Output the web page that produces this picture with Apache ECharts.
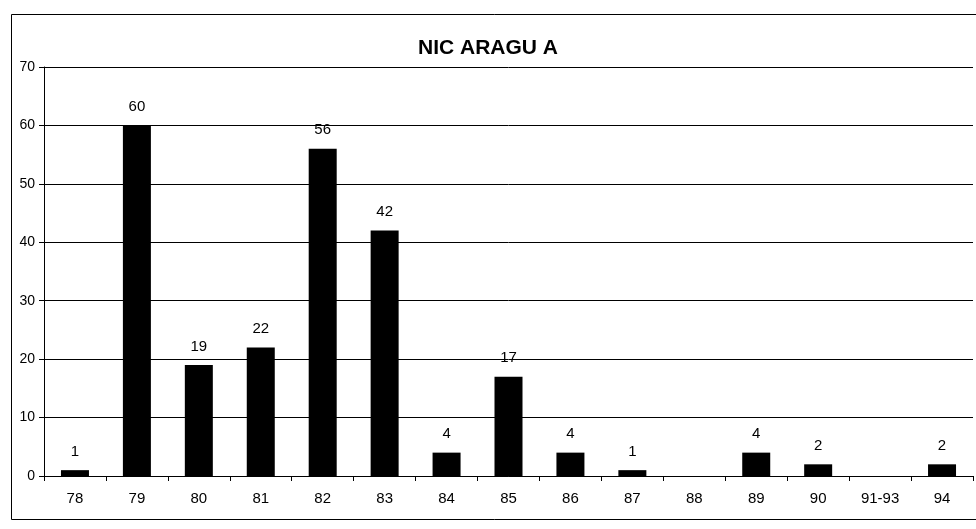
<!DOCTYPE html>
<html>
<head>
<meta charset="utf-8">
<script src="https://cdn.jsdelivr.net/npm/echarts@6/dist/echarts.min.js"></script>
<style>
html,body{margin:0;padding:0;background:#fff;}
#main{width:976px;height:529px;}
</style>
</head>
<body>
<div id="main"></div>
<script>
var titleText = 'NIC ARAGU A';
var categories = ['78','79','80','81','82','83','84','85','86','87','88','89','90','91-93','94'];
var values = [1,60,19,22,56,42,4,17,4,1,null,4,2,null,2];
var yTicks = [0,10,20,30,40,50,60,70];

var chart = echarts.init(document.getElementById('main'), null, {renderer:'canvas'});
var font = 'Liberation Sans, Arial, sans-serif';
chart.setOption({
  animation:false,
  backgroundColor:'#fff',
  title:{
    text:titleText, left:'center', top:33,
    textStyle:{fontFamily:font, fontSize:21, fontWeight:'bold', color:'#000'}
  },
  graphic:[{
    type:'rect', left:9, top:12, shape:{width:966, height:505},
    style:{fill:'none', stroke:'#000', lineWidth:1}, silent:true
  }],
  grid:{left:44, right:3, top:67, bottom:53, containLabel:false},
  xAxis:{
    type:'category', data:categories,
    axisLine:{lineStyle:{color:'#000', width:1}},
    axisTick:{show:true, length:5, inside:false, alignWithLabel:false, lineStyle:{color:'#000'}},
    axisLabel:{color:'#000', fontFamily:font, fontSize:15, margin:15}
  },
  yAxis:{
    type:'value', min:yTicks[0], max:yTicks[yTicks.length-1], interval:10,
    axisLine:{show:true, lineStyle:{color:'#000', width:1}},
    axisTick:{show:true, length:5, lineStyle:{color:'#000'}},
    axisLabel:{color:'#000', fontFamily:font, fontSize:14, margin:9},
    splitLine:{show:true, lineStyle:{color:'#000', width:1}}
  },
  series:[{
    type:'bar', data:values, barWidth:28,
    itemStyle:{color:'#000'},
    label:{show:true, position:'top', distance:11, color:'#000', fontFamily:font, fontSize:15}
  }]
});
</script>
</body>
</html>
